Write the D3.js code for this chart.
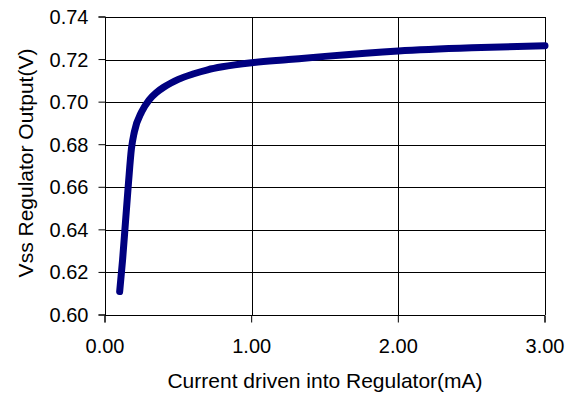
<!DOCTYPE html>
<html>
<head>
<meta charset="utf-8">
<script src="https://cdn.jsdelivr.net/npm/d3@7"></script>
<style>
  body { margin: 0; background: #fff; }
  svg text { font-family: "Liberation Sans", Arial, sans-serif; fill: #000; }
</style>
</head>
<body>
<div id="chart"></div>
<script>
// measured regulator output vs driven current
const currentMA = [0.10, 0.12, 0.14, 0.16, 0.18, 0.20, 0.25, 0.30, 0.35, 0.40, 0.45, 0.50, 0.60, 0.70, 0.80, 1.00, 1.25, 1.50, 2.00, 2.50, 3.00];
const vssOut    = [0.611, 0.626, 0.644, 0.662, 0.678, 0.686, 0.6955, 0.701, 0.7045, 0.707, 0.709, 0.7107, 0.7132, 0.7152, 0.7166, 0.7185, 0.720, 0.7215, 0.724, 0.7255, 0.7265];
const xTicks = [0, 1, 2, 3];
const yTicks = [0.60, 0.62, 0.64, 0.66, 0.68, 0.70, 0.72, 0.74];

const W = 581, H = 393;
const margin = { top: 17, right: 36, bottom: 78, left: 105 };
const width = W - margin.left - margin.right;
const height = H - margin.top - margin.bottom;

const svg = d3.select('#chart').append('svg')
  .attr('width', W)
  .attr('height', H);

const g = svg.append('g')
  .attr('transform', `translate(${margin.left},${margin.top})`);

const x = d3.scaleLinear().domain([0, 3]).range([0, width]);
const y = d3.scaleLinear().domain([0.60, 0.74]).range([height, 0]);

// gridlines
g.append('g').selectAll('line')
  .data(yTicks)
  .enter().append('line')
  .attr('x1', 0).attr('x2', width)
  .attr('y1', d => Math.round(y(d)) + 0.5)
  .attr('y2', d => Math.round(y(d)) + 0.5)
  .attr('stroke', '#000');

g.append('g').selectAll('line')
  .data(xTicks)
  .enter().append('line')
  .attr('y1', 0).attr('y2', height)
  .attr('x1', d => Math.round(x(d)) + 0.5)
  .attr('x2', d => Math.round(x(d)) + 0.5)
  .attr('stroke', '#000');

// axes
const xAxis = g.append('g')
  .attr('transform', `translate(0,${Math.round(height) + 0.5})`)
  .call(d3.axisBottom(x).tickValues(xTicks).tickFormat(d3.format('.2f')).tickSize(7).tickPadding(16).offset(0));

const yAxis = g.append('g')
  .attr('transform', 'translate(0.5,0)')
  .call(d3.axisLeft(y).tickValues(yTicks).tickFormat(d3.format('.2f')).tickSize(7).tickPadding(10).offset(0));

[xAxis, yAxis].forEach(a => {
  a.select('.domain').attr('stroke', '#000');
  a.selectAll('.tick line').attr('stroke', '#000');
  a.selectAll('.tick text')
    .attr('font-size', 20)
    .attr('font-family', '"Liberation Sans", Arial, sans-serif')
    .attr('fill', '#000');
});
yAxis.selectAll('.tick text').attr('dy', '0.35em');

// curve
const line = d3.line()
  .x((d, i) => x(currentMA[i]))
  .y(d => y(d))
  .curve(d3.curveMonotoneX);

g.append('path')
  .datum(vssOut)
  .attr('d', line)
  .attr('fill', 'none')
  .attr('stroke', '#000080')
  .attr('stroke-width', 7)
  .attr('stroke-linecap', 'round')
  .attr('stroke-linejoin', 'round');

// axis titles
svg.append('text')
  .attr('x', margin.left + width / 2)
  .attr('y', 388)
  .attr('text-anchor', 'middle')
  .attr('font-size', 21)
  .text('Current driven into Regulator(mA)');

svg.append('text')
  .attr('transform', 'translate(33,163) rotate(-90)')
  .attr('text-anchor', 'middle')
  .attr('font-size', 21)
  .text('Vss Regulator Output(V)');
</script>
</body>
</html>
